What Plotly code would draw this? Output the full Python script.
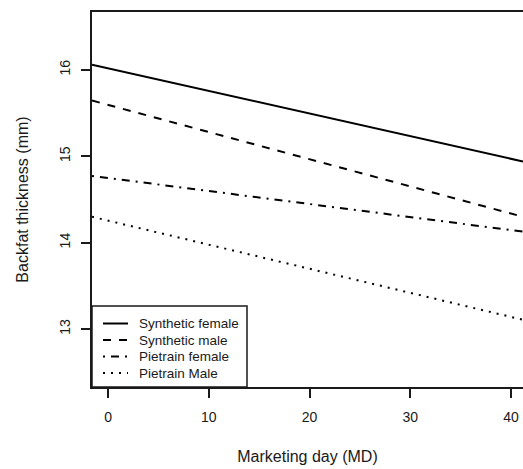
import plotly.graph_objects as go

days = [-1.6, 41.2]
series_names = ["Synthetic female", "Synthetic male", "Pietrain female", "Pietrain Male"]
synthetic_female = [16.06, 14.94]
synthetic_male = [15.645, 14.30]
pietrain_female = [14.773, 14.128]
pietrain_male = [14.30, 13.108]
x_ticks = [0, 10, 20, 30, 40]
y_ticks = [13, 14, 15, 16]

dashes = ["solid", "8px,8px", "2px,6px,8px,6px", "2px,6px"]
values = [synthetic_female, synthetic_male, pietrain_female, pietrain_male]

FONT = "Liberation Sans, Arial, sans-serif"
INK = "#1a1a1a"
W, H = 523, 469
ML, MR, MT, MB = 92, 0, 12, 82
PW, PH = W - ML - MR, H - MT - MB


def px_x(p):
    return (p - ML) / PW


def px_y(p):
    return (H - MB - p) / PH


fig = go.Figure()
for name, vals, d in zip(series_names, values, dashes):
    fig.add_trace(go.Scatter(x=days, y=vals, mode="lines", name=name, showlegend=False,
                             line=dict(color="black", width=2, dash=d)))

# legend box (drawn like R's legend)
shapes = [dict(type="rect", xref="paper", yref="paper", x0=0, x1=px_x(247),
               y0=0, y1=px_y(306), line=dict(color=INK, width=1.5), fillcolor="white",
               layer="above")]
annotations = []
rows = [323.5, 340, 356.5, 373]
for name, d, r in zip(series_names, dashes, rows):
    shapes.append(dict(type="line", xref="paper", yref="paper", x0=px_x(103), x1=px_x(128),
                       y0=px_y(r), y1=px_y(r), line=dict(color="black", width=2, dash=d),
                       layer="above"))
    annotations.append(dict(xref="paper", yref="paper", x=px_x(137), y=px_y(r),
                            xanchor="left", yanchor="middle", text=name, showarrow=False,
                            font=dict(size=13.5, color=INK, family=FONT)))

fig.update_layout(
    width=W, height=H,
    margin=dict(l=ML, r=MR, t=MT, b=MB),
    paper_bgcolor="white", plot_bgcolor="white",
    font=dict(family=FONT, size=14, color=INK),
    showlegend=False,
    shapes=shapes, annotations=annotations,
)
fig.update_xaxes(range=[-1.6, 41.2], tickvals=x_ticks, ticks="outside", ticklen=9,
                 tickwidth=1.5, tickcolor=INK, showline=True, linecolor=INK,
                 linewidth=1.5, mirror=True, showgrid=False, zeroline=False,
                 ticklabelstandoff=7, automargin=False,
                 title=dict(text="Marketing day (MD)", standoff=27, font=dict(size=16)))
fig.update_yaxes(range=[12.33, 16.67], tickvals=y_ticks, ticks="outside", ticklen=9,
                 tickwidth=1.5, tickcolor=INK, showline=True, linecolor=INK,
                 linewidth=1.5, mirror=False, showgrid=False, zeroline=False,
                 tickangle=-90, ticklabelstandoff=6, automargin=False,
                 title=dict(text="Backfat thickness (mm)", standoff=24, font=dict(size=16)))

fig.write_html("out.html", config={"displayModeBar": False},
               post_script="document.body.style.margin='0';document.body.style.overflow='hidden';")
